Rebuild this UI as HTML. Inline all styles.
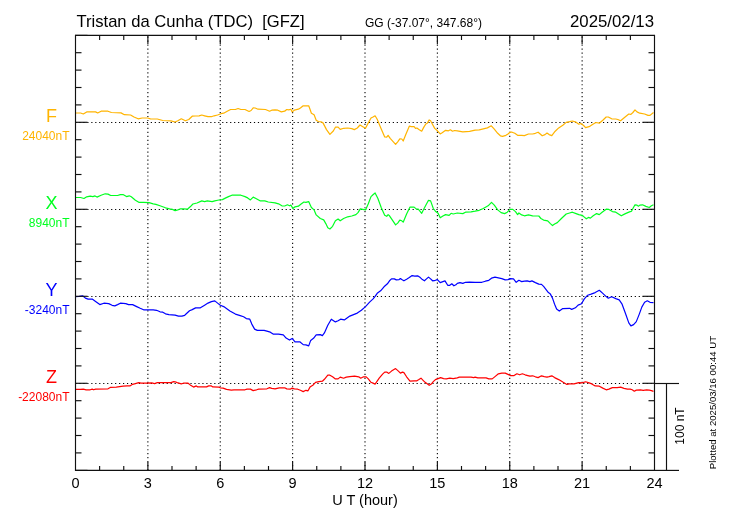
<!DOCTYPE html><html><head><meta charset="utf-8"><style>html,body{margin:0;padding:0;background:#fff;}svg{display:block;will-change:transform;}text{font-family:"Liberation Sans",sans-serif;white-space:pre;}</style></head><body>
<svg width="730" height="520" viewBox="0 0 730 520">
<rect width="730" height="520" fill="#fff"/>
<g stroke="#000" stroke-width="1.1" stroke-dasharray="1.2 2.767" fill="none"><line x1="147.875" y1="36.570" x2="147.875" y2="470"/><line x1="220.250" y1="36.570" x2="220.250" y2="470"/><line x1="292.625" y1="36.570" x2="292.625" y2="470"/><line x1="365.000" y1="36.570" x2="365.000" y2="470"/><line x1="437.375" y1="36.570" x2="437.375" y2="470"/><line x1="509.750" y1="36.570" x2="509.750" y2="470"/><line x1="582.125" y1="36.570" x2="582.125" y2="470"/></g>
<g stroke="#000" stroke-width="1.0" stroke-dasharray="1.2 2.767" fill="none"><line x1="75.400" y1="122.5" x2="654" y2="122.5"/><line x1="75.400" y1="209.5" x2="654" y2="209.5"/><line x1="75.400" y1="296.5" x2="654" y2="296.5"/><line x1="75.400" y1="383.5" x2="654" y2="383.5"/></g>
<polyline points="75.1,113.0 80.6,113.0 83.3,114.0 86.7,111.9 92.2,111.9 95.6,111.9 97.7,113.0 101.1,111.2 108.0,111.2 111.4,112.5 121.0,112.9 124.4,114.7 130.6,115.0 134.0,117.0 138.1,118.8 142.2,118.0 147.7,118.0 150.4,118.8 157.3,119.0 162.8,120.5 171.0,120.8 175.1,122.0 177.8,120.8 181.3,118.8 185.4,120.8 188.8,119.5 192.2,116.2 195.6,116.0 199.1,115.8 201.8,115.0 204.6,115.8 208.0,116.7 211.4,116.7 214.1,115.8 217.6,115.0 221.0,113.7 223.7,113.2 227.2,111.2 230.6,109.5 235.4,109.5 238.1,108.5 240.9,109.5 245.0,109.5 249.1,111.5 251.1,110.5 253.2,107.8 255.2,108.0 258.0,109.2 265.5,109.5 269.6,111.2 271.7,110.2 275.1,109.9 277.8,110.2 281.3,111.9 284.7,111.2 286.7,109.5 288.8,109.9 290.9,109.2 292.2,111.9 294.3,110.2 298.4,109.2 300.4,108.0 303.2,105.8 308.7,105.8 310.0,109.2 311.4,113.2 314.1,114.7 316.2,120.2 318.3,121.5 321.0,121.8 323.0,122.9 326.5,129.6 329.9,134.4 333.3,131.0 335.4,127.2 338.1,127.2 340.2,129.4 343.6,128.3 347.7,128.0 351.8,128.6 354.3,129.6 357.3,128.0 360.0,125.0 362.8,126.7 365.5,128.3 368.3,122.9 371.0,118.0 373.0,117.0 375.1,115.8 377.2,119.2 380.6,127.4 384.7,136.9 386.7,137.2 388.1,135.3 390.2,138.3 392.9,141.3 395.6,144.4 397.7,141.8 399.8,138.8 401.8,139.0 403.2,141.0 405.9,134.2 409.3,126.2 411.4,126.7 414.1,126.7 415.5,128.4 416.9,128.0 418.9,129.4 421.7,131.2 423.7,127.4 425.8,124.0 427.2,123.2 429.2,119.9 430.6,120.8 431.9,123.2 434.7,128.4 437.4,130.8 440.2,133.9 442.2,132.8 445.6,130.3 448.4,130.8 450.4,129.8 452.5,131.2 454.6,130.5 457.3,130.8 462.8,131.8 469.6,131.4 475.1,130.2 479.2,129.9 483.3,128.9 487.4,127.9 491.3,125.8 494.3,129.2 497.7,133.3 500.4,135.8 502.5,136.3 505.9,135.3 508.0,134.0 510.0,132.2 512.1,132.2 514.8,133.3 517.6,135.3 521.7,135.3 524.4,135.6 528.5,134.0 532.6,134.0 535.4,133.3 538.1,132.2 540.2,134.0 542.2,135.8 545.0,134.6 547.0,133.0 549.1,134.6 551.8,135.6 555.2,131.2 558.7,127.9 562.8,125.2 566.2,122.4 569.6,121.7 572.4,121.0 575.4,121.8 578.8,124.2 580.9,123.5 583.6,125.5 585.6,127.7 589.1,126.7 592.5,124.5 595.9,122.5 599.3,123.2 602.8,120.2 606.2,117.0 608.3,117.0 611.7,118.8 615.8,119.0 617.8,119.5 620.6,120.8 625.4,116.7 628.8,114.0 630.9,114.4 632.9,112.5 635.0,109.9 637.0,111.9 639.8,113.2 644.6,114.0 648.0,115.4 650.0,115.4 653.5,112.5" fill="none" stroke="#FFB400" stroke-width="1.2" stroke-linejoin="round"/>
<polyline points="75.1,197.5 80.6,197.5 84.0,198.5 86.7,196.8 90.2,196.2 92.9,196.6 95.0,195.9 97.0,197.1 101.1,195.2 105.2,193.8 108.0,194.1 110.7,195.5 117.6,195.5 120.3,194.6 123.0,194.6 126.5,196.6 129.2,195.8 131.3,196.8 135.4,200.3 138.8,202.3 143.6,202.3 149.1,202.6 153.2,203.8 155.9,204.4 160.0,205.8 165.5,207.8 169.6,208.9 172.4,209.4 175.1,210.6 177.8,209.9 180.6,208.8 183.3,208.9 187.4,209.2 190.2,206.8 192.9,204.0 197.0,203.0 201.8,200.9 204.6,201.6 207.3,200.9 212.1,201.6 214.8,200.8 218.9,200.0 222.4,199.6 225.8,197.9 228.5,196.6 231.9,195.2 240.9,195.2 245.0,196.6 247.7,197.9 250.4,199.9 253.2,197.1 255.9,198.5 260.0,200.8 264.8,200.9 268.3,202.0 275.1,202.8 278.5,203.8 281.9,205.8 284.7,206.0 287.4,204.8 289.5,205.8 290.9,205.1 292.9,208.5 295.0,206.8 298.4,206.2 301.1,204.0 303.9,202.0 305.9,202.3 308.7,201.6 310.0,204.4 311.4,207.5 314.1,209.9 316.2,214.9 320.3,218.5 323.7,219.9 325.8,223.6 327.8,227.8 329.9,229.0 332.6,226.3 335.4,220.8 338.1,219.0 340.2,220.8 343.6,218.5 347.7,216.8 351.8,216.0 355.9,214.6 358.0,212.6 360.3,208.9 362.8,209.4 365.5,209.9 368.3,203.8 371.0,196.6 373.0,194.8 375.1,193.0 377.8,198.2 381.3,207.8 384.7,215.3 386.7,216.3 388.1,214.6 389.5,215.8 392.9,220.8 395.6,224.9 397.7,223.1 399.8,220.1 401.8,220.8 403.2,222.2 406.6,214.0 410.0,207.1 414.1,207.1 416.2,208.9 418.3,209.2 421.7,213.3 423.7,209.2 425.8,205.3 428.5,200.3 430.6,200.9 433.3,208.5 435.4,211.2 438.1,213.3 440.2,217.8 442.9,216.0 445.6,214.6 449.1,215.3 451.1,213.3 453.2,214.0 457.3,213.0 462.8,213.6 465.5,212.2 471.0,211.9 475.1,211.2 479.2,210.3 483.3,208.5 488.1,205.8 491.5,202.3 494.3,205.1 497.7,209.9 501.1,212.6 504.6,213.6 507.3,212.2 510.0,209.4 512.8,209.4 515.5,211.6 517.6,214.6 518.9,213.0 521.7,214.9 524.4,215.8 528.5,214.9 532.6,215.8 538.8,216.0 540.9,218.5 543.6,220.1 547.7,220.8 550.4,223.6 552.5,225.6 554.6,224.0 557.3,222.6 561.4,218.5 566.2,214.0 569.6,213.0 572.4,212.2 576.1,213.6 578.8,214.6 582.2,215.3 584.3,217.1 586.3,218.8 588.4,217.4 590.4,218.1 593.2,215.8 596.6,213.6 599.3,214.6 602.1,212.2 606.2,209.2 608.9,209.4 612.4,211.6 615.8,212.2 618.5,214.0 621.3,215.8 625.4,213.6 629.5,211.9 631.5,211.2 632.9,208.5 635.0,204.8 637.0,205.1 638.4,206.2 639.8,205.1 642.5,204.8 645.9,206.4 649.3,207.5 651.4,205.8 653.5,204.8" fill="none" stroke="#00FF20" stroke-width="1.2" stroke-linejoin="round"/>
<polyline points="75.1,296.6 79.2,296.4 82.6,295.8 85.4,298.1 88.1,299.1 92.2,299.1 95.6,301.6 99.8,304.6 103.9,303.2 108.7,303.6 112.1,305.3 114.8,305.9 117.6,304.6 120.3,303.2 125.8,303.6 128.5,304.6 132.6,304.6 136.7,306.6 140.2,308.3 143.6,309.8 153.2,309.8 156.6,310.3 160.0,311.8 162.8,312.2 165.5,313.8 168.9,314.6 175.1,315.1 178.5,316.1 181.9,316.1 184.7,315.3 189.5,310.8 192.2,309.6 195.6,307.9 200.4,307.8 204.6,305.2 208.0,303.1 211.4,301.6 214.8,300.9 217.6,303.1 220.3,305.2 223.7,306.6 229.9,310.9 235.4,314.1 240.2,315.6 243.6,316.8 246.3,318.6 249.8,319.2 251.8,324.1 254.6,329.1 257.3,330.4 264.1,330.4 266.9,331.2 270.3,332.2 273.1,334.1 275.1,334.1 278.5,334.1 283.3,334.9 286.1,338.1 289.5,340.1 292.2,338.4 295.0,341.8 299.8,341.8 303.2,344.6 305.9,344.9 308.7,345.9 310.7,340.4 313.5,338.3 316.2,334.9 320.3,334.6 322.4,335.6 324.4,332.9 327.8,325.3 331.3,319.2 335.4,321.9 338.1,320.8 340.6,319.2 344.3,319.9 349.8,316.1 357.3,313.1 361.4,310.3 365.5,306.6 369.6,302.1 373.1,298.9 375.1,296.4 377.2,293.3 380.6,290.8 384.0,286.8 387.4,283.8 389.5,280.8 391.5,278.9 394.3,278.9 396.3,279.9 399.1,279.6 400.4,278.6 401.8,279.6 403.9,280.8 406.6,279.3 409.3,277.6 412.1,275.6 414.8,276.2 417.6,275.8 420.3,277.6 422.4,279.6 424.4,280.8 426.5,278.9 428.5,277.1 430.6,278.9 432.6,280.8 435.4,280.3 437.4,279.6 440.2,282.6 442.9,281.6 445.0,280.9 447.7,285.3 449.8,285.3 451.8,283.8 453.9,285.8 455.9,284.8 457.3,283.4 460.0,282.6 462.8,283.4 465.5,282.3 469.6,282.1 475.1,282.3 481.9,282.3 485.4,281.2 488.8,280.3 491.5,278.2 495.0,277.2 498.4,277.9 501.8,278.6 505.2,279.9 508.0,279.6 510.0,278.6 513.5,278.9 516.2,282.3 518.9,280.3 521.7,281.6 524.4,281.2 527.2,280.9 529.9,281.6 531.9,280.9 535.4,282.6 538.8,284.1 541.5,284.4 543.6,286.4 546.3,289.9 548.4,292.6 550.4,294.1 552.5,298.1 554.6,304.2 556.6,309.1 559.3,311.1 562.8,308.6 569.6,308.3 571.7,309.4 575.4,307.8 578.1,305.1 581.5,303.8 584.3,298.9 587.7,295.2 591.1,294.1 595.2,292.6 599.3,290.3 602.8,293.4 606.2,296.6 608.3,298.2 611.7,296.8 615.8,298.6 619.2,299.9 621.9,303.8 625.4,313.3 628.8,322.9 630.9,325.9 633.6,324.6 636.3,321.6 639.1,314.6 641.8,307.1 644.6,302.3 647.3,300.8 650.0,302.3 653.5,302.6" fill="none" stroke="#0000FF" stroke-width="1.2" stroke-linejoin="round"/>
<polyline points="75.1,389.4 80.6,389.4 83.3,389.1 86.1,389.8 90.2,389.8 92.2,389.1 93.6,389.8 95.6,389.1 108.0,388.8 110.7,387.3 116.2,387.1 123.1,386.2 127.2,385.8 129.9,385.9 132.6,384.3 135.4,383.6 138.8,382.6 140.9,383.2 146.3,383.2 151.8,382.9 154.6,383.6 157.3,382.6 165.5,382.6 171.0,382.6 173.7,381.6 175.1,381.8 177.2,382.6 181.3,383.9 183.3,383.2 188.1,383.2 190.2,384.9 193.6,387.1 196.3,385.9 197.7,386.9 206.6,386.9 208.7,385.9 211.4,385.9 212.8,386.9 218.9,387.1 220.3,387.8 223.1,388.1 226.5,389.4 231.3,390.1 234.0,389.8 245.0,389.8 247.0,389.1 250.4,389.1 253.2,390.6 256.6,389.8 258.7,389.1 266.9,388.8 269.6,387.6 271.7,388.4 275.1,388.9 279.2,387.8 284.7,387.8 286.7,388.9 290.2,389.2 292.2,388.1 294.3,388.9 297.7,389.2 300.4,390.3 303.2,391.6 305.9,390.3 308.0,390.8 310.0,387.1 312.8,385.3 315.5,382.3 318.9,381.6 322.4,381.2 324.4,379.3 327.8,375.2 329.9,375.2 332.6,376.8 335.4,378.9 338.1,378.9 340.2,377.1 343.6,378.2 346.3,377.1 349.8,376.6 354.6,376.2 358.7,376.8 360.7,378.2 363.5,376.8 366.2,376.8 368.3,378.9 371.0,382.3 373.0,383.1 375.1,384.1 379.2,378.2 382.6,374.1 384.7,372.1 386.7,372.1 388.8,373.4 391.5,371.1 395.6,368.6 398.4,371.1 400.4,373.1 402.5,372.1 403.9,372.6 406.6,376.8 410.0,381.2 414.1,380.8 416.9,380.8 418.9,379.6 421.0,378.2 423.1,380.3 425.1,382.3 427.2,383.8 429.2,385.3 431.3,384.1 433.3,381.6 435.4,379.6 438.1,378.6 440.6,377.6 443.6,378.6 446.3,378.9 449.8,378.2 453.2,378.6 457.3,377.9 459.3,377.1 471.0,377.1 473.7,377.6 475.1,377.2 477.8,377.9 486.1,377.9 488.8,378.9 492.2,378.9 495.0,376.6 498.4,373.8 501.8,373.1 505.2,373.1 508.0,374.4 510.7,375.6 514.1,375.6 516.9,373.8 519.6,374.8 522.4,373.8 525.1,374.8 527.8,375.6 529.9,376.2 532.6,375.8 535.4,376.8 538.1,377.6 541.5,375.8 544.3,376.6 547.0,377.1 549.1,376.6 551.8,375.8 554.6,377.6 558.7,379.6 562.8,382.1 566.9,384.4 569.2,383.9 574.0,383.9 578.8,382.6 582.2,382.9 585.6,381.8 589.1,382.9 591.8,383.9 595.2,385.9 599.3,386.2 602.8,388.1 606.2,389.8 608.9,389.1 612.4,387.6 617.2,387.6 620.6,387.1 624.0,388.4 627.4,389.1 630.2,389.1 632.2,389.8 634.3,391.2 636.3,390.1 640.4,389.8 643.2,390.3 646.6,389.8 649.3,390.1 651.4,390.6 653.5,391.4" fill="none" stroke="#FF0000" stroke-width="1.2" stroke-linejoin="round"/>
<g stroke="#111" stroke-width="1.15" fill="none"><line x1="75" y1="52.70" x2="81.5" y2="52.70"/><line x1="655" y1="52.70" x2="648.5" y2="52.70"/><line x1="75" y1="70.10" x2="81.5" y2="70.10"/><line x1="655" y1="70.10" x2="648.5" y2="70.10"/><line x1="75" y1="87.50" x2="81.5" y2="87.50"/><line x1="655" y1="87.50" x2="648.5" y2="87.50"/><line x1="75" y1="104.90" x2="81.5" y2="104.90"/><line x1="655" y1="104.90" x2="648.5" y2="104.90"/><line x1="75" y1="122.30" x2="87.5" y2="122.30"/><line x1="655" y1="122.30" x2="642.5" y2="122.30"/><line x1="75" y1="139.70" x2="81.5" y2="139.70"/><line x1="655" y1="139.70" x2="648.5" y2="139.70"/><line x1="75" y1="157.10" x2="81.5" y2="157.10"/><line x1="655" y1="157.10" x2="648.5" y2="157.10"/><line x1="75" y1="174.50" x2="81.5" y2="174.50"/><line x1="655" y1="174.50" x2="648.5" y2="174.50"/><line x1="75" y1="191.90" x2="81.5" y2="191.90"/><line x1="655" y1="191.90" x2="648.5" y2="191.90"/><line x1="75" y1="209.30" x2="87.5" y2="209.30"/><line x1="655" y1="209.30" x2="642.5" y2="209.30"/><line x1="75" y1="226.70" x2="81.5" y2="226.70"/><line x1="655" y1="226.70" x2="648.5" y2="226.70"/><line x1="75" y1="244.10" x2="81.5" y2="244.10"/><line x1="655" y1="244.10" x2="648.5" y2="244.10"/><line x1="75" y1="261.50" x2="81.5" y2="261.50"/><line x1="655" y1="261.50" x2="648.5" y2="261.50"/><line x1="75" y1="278.90" x2="81.5" y2="278.90"/><line x1="655" y1="278.90" x2="648.5" y2="278.90"/><line x1="75" y1="296.30" x2="87.5" y2="296.30"/><line x1="655" y1="296.30" x2="642.5" y2="296.30"/><line x1="75" y1="313.70" x2="81.5" y2="313.70"/><line x1="655" y1="313.70" x2="648.5" y2="313.70"/><line x1="75" y1="331.10" x2="81.5" y2="331.10"/><line x1="655" y1="331.10" x2="648.5" y2="331.10"/><line x1="75" y1="348.50" x2="81.5" y2="348.50"/><line x1="655" y1="348.50" x2="648.5" y2="348.50"/><line x1="75" y1="365.90" x2="81.5" y2="365.90"/><line x1="655" y1="365.90" x2="648.5" y2="365.90"/><line x1="75" y1="383.30" x2="87.5" y2="383.30"/><line x1="655" y1="383.30" x2="642.5" y2="383.30"/><line x1="75" y1="400.70" x2="81.5" y2="400.70"/><line x1="655" y1="400.70" x2="648.5" y2="400.70"/><line x1="75" y1="418.10" x2="81.5" y2="418.10"/><line x1="655" y1="418.10" x2="648.5" y2="418.10"/><line x1="75" y1="435.50" x2="81.5" y2="435.50"/><line x1="655" y1="435.50" x2="648.5" y2="435.50"/><line x1="75" y1="452.90" x2="81.5" y2="452.90"/><line x1="655" y1="452.90" x2="648.5" y2="452.90"/><line x1="99.62" y1="35" x2="99.62" y2="40"/><line x1="99.62" y1="471" x2="99.62" y2="466"/><line x1="123.75" y1="35" x2="123.75" y2="40"/><line x1="123.75" y1="471" x2="123.75" y2="466"/><line x1="147.88" y1="35" x2="147.88" y2="44"/><line x1="147.88" y1="471" x2="147.88" y2="462"/><line x1="172.00" y1="35" x2="172.00" y2="40"/><line x1="172.00" y1="471" x2="172.00" y2="466"/><line x1="196.12" y1="35" x2="196.12" y2="40"/><line x1="196.12" y1="471" x2="196.12" y2="466"/><line x1="220.25" y1="35" x2="220.25" y2="44"/><line x1="220.25" y1="471" x2="220.25" y2="462"/><line x1="244.38" y1="35" x2="244.38" y2="40"/><line x1="244.38" y1="471" x2="244.38" y2="466"/><line x1="268.50" y1="35" x2="268.50" y2="40"/><line x1="268.50" y1="471" x2="268.50" y2="466"/><line x1="292.62" y1="35" x2="292.62" y2="44"/><line x1="292.62" y1="471" x2="292.62" y2="462"/><line x1="316.75" y1="35" x2="316.75" y2="40"/><line x1="316.75" y1="471" x2="316.75" y2="466"/><line x1="340.88" y1="35" x2="340.88" y2="40"/><line x1="340.88" y1="471" x2="340.88" y2="466"/><line x1="365.00" y1="35" x2="365.00" y2="44"/><line x1="365.00" y1="471" x2="365.00" y2="462"/><line x1="389.12" y1="35" x2="389.12" y2="40"/><line x1="389.12" y1="471" x2="389.12" y2="466"/><line x1="413.25" y1="35" x2="413.25" y2="40"/><line x1="413.25" y1="471" x2="413.25" y2="466"/><line x1="437.38" y1="35" x2="437.38" y2="44"/><line x1="437.38" y1="471" x2="437.38" y2="462"/><line x1="461.50" y1="35" x2="461.50" y2="40"/><line x1="461.50" y1="471" x2="461.50" y2="466"/><line x1="485.62" y1="35" x2="485.62" y2="40"/><line x1="485.62" y1="471" x2="485.62" y2="466"/><line x1="509.75" y1="35" x2="509.75" y2="44"/><line x1="509.75" y1="471" x2="509.75" y2="462"/><line x1="533.88" y1="35" x2="533.88" y2="40"/><line x1="533.88" y1="471" x2="533.88" y2="466"/><line x1="558.00" y1="35" x2="558.00" y2="40"/><line x1="558.00" y1="471" x2="558.00" y2="466"/><line x1="582.12" y1="35" x2="582.12" y2="44"/><line x1="582.12" y1="471" x2="582.12" y2="462"/><line x1="606.25" y1="35" x2="606.25" y2="40"/><line x1="606.25" y1="471" x2="606.25" y2="466"/><line x1="630.38" y1="35" x2="630.38" y2="40"/><line x1="630.38" y1="471" x2="630.38" y2="466"/></g>
<g stroke="#111" stroke-width="1.15" fill="none"><path d="M75.5,35.4 H654.5 V470.4 H75.5 Z"/><line x1="75" y1="35.4" x2="87.5" y2="35.4"/><line x1="75" y1="470.4" x2="87.5" y2="470.4"/><line x1="654" y1="383.5" x2="679" y2="383.5"/><line x1="654" y1="470.4" x2="679" y2="470.4"/><line x1="666.5" y1="383" x2="666.5" y2="471"/></g>
<text x="76.5" y="26.5" font-size="16.6" fill="#000">Tristan da Cunha (TDC)  [GFZ]</text>
<text x="365" y="27" font-size="12" fill="#000">GG (-37.07°, 347.68°)</text>
<text x="570" y="26.8" font-size="16.8" fill="#000">2025/02/13</text>
<text x="51.5" y="122" font-size="18" fill="#FFB400" text-anchor="middle">F</text>
<text x="69.5" y="140" font-size="12" fill="#FFB400" text-anchor="end">24040nT</text>
<text x="51.5" y="209" font-size="18" fill="#00FF20" text-anchor="middle">X</text>
<text x="69.5" y="227" font-size="12" fill="#00FF20" text-anchor="end">8940nT</text>
<text x="51.5" y="296" font-size="18" fill="#0000FF" text-anchor="middle">Y</text>
<text x="69.5" y="314" font-size="12" fill="#0000FF" text-anchor="end">-3240nT</text>
<text x="51.5" y="383" font-size="18" fill="#FF0000" text-anchor="middle">Z</text>
<text x="69.5" y="401" font-size="12" fill="#FF0000" text-anchor="end">-22080nT</text>
<text x="75.50" y="488" font-size="14.5" fill="#000" text-anchor="middle">0</text>
<text x="147.88" y="488" font-size="14.5" fill="#000" text-anchor="middle">3</text>
<text x="220.25" y="488" font-size="14.5" fill="#000" text-anchor="middle">6</text>
<text x="292.62" y="488" font-size="14.5" fill="#000" text-anchor="middle">9</text>
<text x="365.00" y="488" font-size="14.5" fill="#000" text-anchor="middle">12</text>
<text x="437.38" y="488" font-size="14.5" fill="#000" text-anchor="middle">15</text>
<text x="509.75" y="488" font-size="14.5" fill="#000" text-anchor="middle">18</text>
<text x="582.12" y="488" font-size="14.5" fill="#000" text-anchor="middle">21</text>
<text x="654.50" y="488" font-size="14.5" fill="#000" text-anchor="middle">24</text>
<text x="365" y="504.5" font-size="14.5" fill="#000" text-anchor="middle">U T (hour)</text>
<text transform="translate(683.5,426) rotate(-90)" font-size="12" fill="#000" text-anchor="middle">100 nT</text>
<text transform="translate(716,402.6) rotate(-90)" font-size="9.6" fill="#000" text-anchor="middle">Plotted at 2025/03/16 00:44 UT</text>
</svg></body></html>
